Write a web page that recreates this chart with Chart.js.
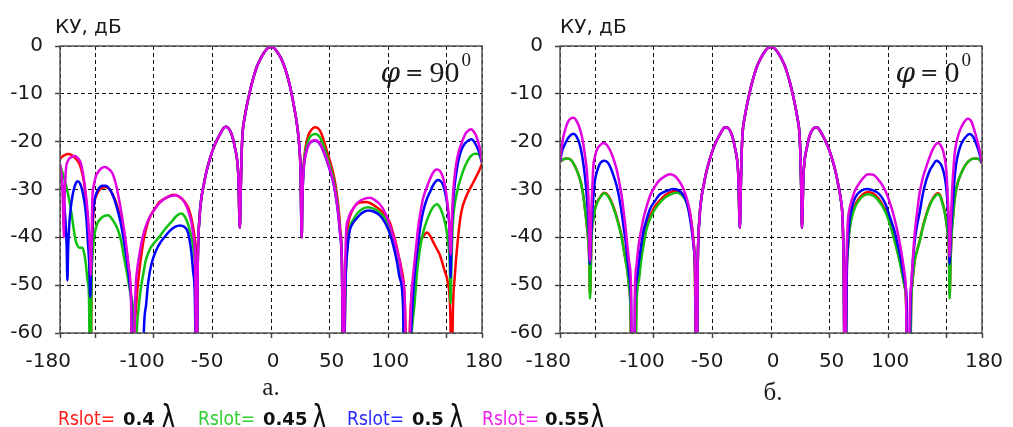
<!DOCTYPE html>
<html>
<head>
<meta charset="utf-8">
<script src="https://cdn.jsdelivr.net/npm/chart.js@4.4.1/dist/chart.umd.min.js"></script>
<style>
  html, body { margin: 0; padding: 0; background: #fff; }
  #wrap { position: relative; width: 1013px; height: 427px; overflow: hidden; }
  canvas { position: absolute; top: 0; }
  .t { position: absolute; white-space: nowrap; line-height: 1; color: #1a1a1a; }
  .ylab { font: 20px "DejaVu Sans", sans-serif; }
  .phi { font: 30px "Liberation Serif", serif; }
  .phi i { font-family: "DejaVu Serif", serif; font-size: 28px; margin-right: 5px; }
  .phi .eq { font: 22px "DejaVu Serif", serif; margin-right: 6px; position: relative; top: -2px; }
  .phi .sup { font-size: 19px; position: relative; top: -16px; margin-left: 2px; }
  .cap { font: 25px "Liberation Serif", serif; transform: translateX(-50%); }
  .rs { font: 19px "DejaVu Sans Condensed", "Liberation Sans", sans-serif; }
  .num { font: bold 18px "DejaVu Sans", sans-serif; color: #111; }
  .lam { font: 33px "DejaVu Sans", sans-serif; color: #111; transform: scaleX(0.75); transform-origin: left; }
</style>
</head>
<body>
<div id="wrap">
  <canvas id="chart90" width="520" height="427" style="left:0"></canvas>
  <canvas id="chart0" width="513" height="427" style="left:500px"></canvas>

  <div class="t ylab" style="left:55px; top:14px">КУ, дБ</div>
  <div class="t ylab" style="left:560px; top:14px">КУ, дБ</div>

  <div class="t phi" style="right:542px; top:55px"><i>φ</i><span class="eq">=</span>90<span class="sup">0</span></div>
  <div class="t phi" style="right:42px; top:55px"><i>φ</i><span class="eq">=</span>0<span class="sup">0</span></div>

  <div class="t cap" style="left:271px; top:373px">a.</div>
  <div class="t cap" style="left:773px; top:378px">б.</div>

  <div class="t rs" style="left:58px; top:407px; color:#ff1a1a">Rslot=</div>
  <div class="t num" style="left:123px; top:408px">0.4</div>
  <div class="t lam" style="left:161px; top:398px">λ</div>

  <div class="t rs" style="left:198px; top:407px; color:#33cc33">Rslot=</div>
  <div class="t num" style="left:263px; top:408px">0.45</div>
  <div class="t lam" style="left:312px; top:398px">λ</div>

  <div class="t rs" style="left:347px; top:407px; color:#2a2aff">Rslot=</div>
  <div class="t num" style="left:412px; top:408px">0.5</div>
  <div class="t lam" style="left:449px; top:398px">λ</div>

  <div class="t rs" style="left:482px; top:407px; color:#ee22ee">Rslot=</div>
  <div class="t num" style="left:545px; top:408px">0.55</div>
  <div class="t lam" style="left:590px; top:398px">λ</div>
</div>

<script>
// axes
const xTicks = [-180, -150, -100, -50, 0, 50, 100, 150, 180];
const xHidden = [-150, 150];
const yTicks = [0, -10, -20, -30, -40, -50, -60];

// series: Rslot = 0.4, 0.45, 0.5, 0.55 lambda
const seriesLabels = ["Rslot= 0.4λ", "Rslot= 0.45λ", "Rslot= 0.5λ", "Rslot= 0.55λ"];

// ---------- phi = 90 ----------
// main lobe + first side lobes, common to all series
const main90 = [[-63.5,-75],[-62.5,-46],[-61,-36],[-59.5,-32],[-57.5,-29.2],[-55,-26.2],[-52,-23.5],[-49,-21.3],[-46,-19.6],[-43,-18.2],[-40.5,-17.2],[-38.5,-16.9],[-36,-17.3],[-34,-18.2],[-32,-19.8],[-30.5,-21.6],[-29,-23.6],[-27.8,-27.5],[-26.6,-38],[-25.8,-30],[-25,-22],[-24,-17.5],[-22.5,-15],[-20.5,-12.3],[-18,-9.5],[-16,-7.5],[-14,-5.8],[-12,-4.3],[-9,-2.7],[-6,-1.4],[-3,-0.5],[0,-0.2],[3,-0.5],[6,-1.5],[9,-2.8],[12,-4.7],[14,-6.3],[16.2,-8.4],[18,-10.5],[19.5,-12.5],[21,-14.5],[22.5,-17],[24,-20.5],[25.2,-26],[26.2,-40]];

const red90Left = [[-180,-23.6],[-178,-23.1],[-176,-22.8],[-173,-22.6],[-170,-22.8],[-167.5,-23.3],[-165,-24],[-163,-24.9],[-160.5,-27.2],[-159,-29.5],[-157.5,-33],[-156,-38],[-155,-44],[-154,-75],[-153,-48],[-152,-38],[-151,-33.4],[-149,-31.3],[-146.7,-30.2],[-144,-29.6],[-141,-29.5],[-138,-29.9],[-135.3,-30.9],[-132,-32.8],[-128.2,-36.2],[-125,-40],[-122.6,-44],[-120.5,-49],[-119,-55],[-117.7,-75],[-116.5,-60],[-115.4,-55.7],[-114,-51],[-112.6,-47.6],[-110.5,-43.5],[-108.3,-40.1],[-105.5,-37.3],[-102.6,-35.4],[-99,-34],[-95.5,-32.7],[-90,-31.8],[-86,-31.3],[-82.7,-31.1],[-78.5,-31.5],[-74.2,-32.4],[-71,-33.6],[-68.5,-35.4],[-66.5,-37.8],[-64.8,-40.8],[-64,-45]];
const red90Right = [[26.7,-32],[27.5,-26],[28.5,-23],[30,-20.5],[32,-18.6],[34.5,-17.5],[37.6,-17],[40,-17.2],[42,-17.8],[44.5,-19.3],[47.5,-21.8],[50,-23.8],[52.8,-26.3],[55,-29],[57,-32.5],[59,-38],[60.5,-45],[61.8,-75],[63.5,-48],[64.5,-41],[65.6,-37.5],[67.5,-35.5],[69.9,-34.1],[72.5,-33.2],[75.6,-32.7],[81.3,-32.6],[88.4,-33.4],[95.5,-34.8],[101.2,-36.8],[104,-39],[106.9,-41.6],[109,-44],[111.1,-46.3],[114,-52.4],[116.8,-75],[118.5,-58],[120,-52],[121.1,-49.7],[123,-46],[125.4,-42.9],[127.5,-40.8],[129.6,-39.9],[133,-39],[135.5,-39.6],[138.2,-40.9],[141,-42.2],[143.9,-43.6],[148.1,-47],[151,-49.7],[153,-56.5],[154,-75],[155.2,-55.2],[156.7,-48.4],[159.5,-40.2],[162.3,-34.8],[166.6,-31.4],[170.9,-29.3],[175.1,-27.3],[178,-25.8],[180,-24.6]];

const green90Left = [[-180,-25],[-178.5,-26],[-176.6,-27.5],[-174.5,-29.5],[-172.3,-32],[-170,-35.3],[-168,-38.8],[-166.5,-40.8],[-165,-41.8],[-163,-42.2],[-161,-42.2],[-159.5,-43.2],[-158,-45.5],[-156.5,-49],[-155.3,-52.3],[-154.2,-75],[-153,-48],[-152,-43],[-151,-40.1],[-148.5,-37.3],[-145.3,-36.1],[-142,-35.5],[-139,-35.4],[-135.5,-36.2],[-131.1,-38.1],[-128,-40.6],[-125.4,-44.2],[-122.5,-48],[-119.7,-52],[-117.5,-56],[-116,-75],[-114.5,-60],[-113,-55],[-111.2,-51],[-108.5,-47],[-106.9,-44.9],[-103,-42.3],[-98.4,-40.8],[-94,-39.5],[-89.8,-38.1],[-85,-36.8],[-81.3,-35.7],[-78,-35.1],[-76.2,-35],[-73.5,-35.7],[-71.4,-36.8],[-69,-38.8],[-67.1,-40.8],[-65.5,-44],[-64.3,-50]];
const green90Right = [[26.7,-32],[27.5,-26.5],[28.5,-23.5],[30,-21.3],[32,-19.6],[34.5,-18.7],[37.6,-18.4],[40,-18.6],[42,-19.2],[44.5,-20.6],[47.5,-22.8],[50,-24.8],[52.8,-27.2],[55,-30],[57,-33.5],[59,-38.8],[60.5,-45.5],[61.8,-75],[63.5,-50],[65,-42.5],[67,-38.2],[70.5,-36.2],[74.2,-34.8],[78.5,-34],[82.7,-33.7],[87.5,-34],[92.7,-34.8],[96.5,-35.8],[99.8,-37.1],[102.7,-39.2],[105.5,-41.6],[107.7,-44.2],[109.7,-47],[112.5,-52.5],[114.5,-75],[117,-75],[120,-60],[122.5,-53.8],[124.5,-47.5],[126.8,-42.9],[129.5,-39.3],[132.5,-36.8],[135.5,-34.9],[138.2,-33.7],[141.6,-33.1],[143.5,-33.5],[145.3,-34.4],[147.5,-36],[149.5,-38.2],[151,-41],[152.4,-45],[153.2,-53.8],[154,-45],[155.2,-36.8],[156.5,-33.5],[158,-31.4],[160,-29.2],[162.3,-27.3],[165,-25.4],[168,-23.9],[170.5,-23],[173.7,-22.5],[176,-22.5],[178,-22.9],[180,-24.2]];

const blue90Left = [[-180,-25.3],[-178.5,-28],[-177,-31.5],[-175.5,-36],[-174.3,-42],[-173.7,-49],[-173,-42],[-172,-37],[-170.9,-34],[-169.5,-31.5],[-168,-29.8],[-166.5,-28.7],[-165.2,-28.3],[-163,-28.7],[-160.9,-30.3],[-159,-32.8],[-157.5,-36],[-156.2,-41],[-155,-46],[-154.2,-52.5],[-153.3,-45],[-152.3,-37],[-151,-33],[-149,-30.8],[-146.7,-29.7],[-144,-29.2],[-141,-29.2],[-138,-29.8],[-135.3,-31],[-132,-33.3],[-128.2,-37],[-125,-41.5],[-122.6,-45.5],[-120.5,-50],[-119,-55],[-117.8,-75],[-109.5,-75],[-108.5,-60],[-106.5,-54],[-105,-50],[-103.2,-47],[-101,-44.7],[-98.5,-43],[-94.7,-41.2],[-91,-40],[-87,-38.8],[-82,-37.8],[-77.6,-37.5],[-74,-37.8],[-71.4,-38.6],[-69.5,-40.5],[-68,-43],[-66.5,-47],[-65,-52]];
const blue90Right = [[26.7,-33],[27.5,-27],[28.5,-24.2],[30,-22.2],[32,-20.7],[34.5,-20],[37.6,-19.8],[40,-20],[42,-20.6],[44.5,-21.9],[47.5,-23.9],[50,-25.8],[52.8,-28.2],[55,-31],[57,-34.5],[59,-39.5],[60.5,-46],[61.8,-75],[63.5,-50],[65,-43],[67,-38.8],[69.5,-37.2],[72.8,-36.1],[77,-35],[82.7,-34.4],[87.5,-34.6],[92.7,-35.4],[96.5,-36.6],[99.8,-38.2],[102.7,-40.3],[105.5,-42.9],[107.7,-45.5],[109.7,-48.4],[112.6,-53.8],[114,-75],[117.5,-75],[119.5,-60],[121.1,-52.4],[123.2,-46],[125.4,-41.6],[127.5,-37.6],[129.6,-34.8],[132.5,-32.3],[135.3,-30.7],[138.5,-29],[142.4,-28],[144.5,-28.2],[146.7,-29],[148.5,-30.6],[150.1,-32.7],[151.4,-35.5],[152.4,-38.8],[153.2,-48.4],[154,-40],[155.2,-33.4],[156.5,-29.5],[158,-26.6],[160,-23.8],[162.3,-21.8],[164.5,-20.7],[166.6,-20.1],[170.9,-19.5],[173,-19.9],[175.1,-20.8],[178,-22.5],[180,-24.4]];

const magenta90Left = [[-180,-24.6],[-179,-26.5],[-178,-29.5],[-177.3,-35],[-176.8,-40],[-176,-31],[-175,-26],[-173,-23.9],[-170,-23.2],[-167.2,-23],[-164.5,-23.5],[-162.4,-24.4],[-160.5,-26.5],[-158.1,-30.7],[-156.5,-34.5],[-155.3,-38.8],[-154.4,-43],[-153.8,-48],[-153,-40],[-152.4,-32],[-151,-29],[-149.5,-27.3],[-148.1,-26.6],[-145,-25.6],[-141.6,-25.3],[-138.5,-25.7],[-135.3,-26.6],[-132.5,-28.7],[-129.7,-32],[-127,-35.8],[-124,-40.8],[-121.5,-46],[-119.5,-52],[-118,-75],[-116.5,-60],[-115.4,-50.3],[-114,-46.5],[-112,-43.3],[-110,-40.5],[-107.5,-38.2],[-104,-36],[-100,-34.4],[-95,-32.8],[-90,-31.8],[-85,-31.3],[-81.3,-31.2],[-77,-31.7],[-73.5,-32.8],[-70.5,-34.5],[-68,-36.8],[-66,-40],[-64.8,-44]];
const magenta90Right = [[26.7,-33],[27.5,-27],[28.5,-24.2],[30,-22.2],[32,-20.7],[34.5,-19.9],[37.6,-19.7],[40,-19.9],[42,-20.5],[44.5,-21.8],[47.5,-23.7],[50,-25.6],[52.8,-28],[55,-30.8],[57,-34.2],[59,-39.2],[60.5,-46],[61.9,-75],[63,-50],[64.2,-38.5],[65.5,-36.5],[67.5,-35],[69.9,-34.1],[73,-33],[77,-32.2],[84.1,-31.7],[91.2,-32.7],[95,-33.8],[98.3,-35.4],[101,-37.2],[104,-39.5],[107,-42.2],[109.7,-45],[112,-48.5],[114,-52.4],[115.4,-75],[117.5,-75],[118.7,-60],[119.7,-52.4],[121,-48.5],[122.5,-45],[124,-41.5],[125.4,-38.2],[127.5,-34.8],[129.6,-32],[132.5,-29.8],[135.3,-28],[138,-26.6],[141,-25.8],[143,-25.9],[145.3,-26.6],[147.3,-28],[149,-30],[150.5,-32.8],[151.8,-36.1],[153.2,-43.6],[154.2,-37],[155.2,-31.4],[156.5,-27.5],[158,-24.6],[160,-22.2],[162.3,-20.5],[164.5,-19.1],[166.6,-18.1],[170.9,-17.4],[173,-17.9],[175.1,-18.8],[178,-21.2],[180,-24.4]];

// ---------- phi = 0 ----------
const main0 = [[-63.5,-75],[-62.5,-46],[-61,-36],[-59.5,-32],[-57.5,-29.2],[-55,-26.2],[-52,-23.5],[-49,-21.3],[-46,-19.6],[-43,-18.2],[-40.5,-17.2],[-38.5,-17],[-36,-17.3],[-34,-18.2],[-32,-19.8],[-30.5,-21.6],[-29,-23.6],[-27.8,-27.5],[-26.6,-38],[-25.8,-30],[-25,-22],[-24,-17.5],[-22.5,-15],[-20.5,-12.3],[-18,-9.5],[-16,-7.5],[-14,-5.8],[-12,-4.3],[-9,-2.7],[-6,-1.4],[-3,-0.5],[0,-0.2],[3,-0.5],[6,-1.4],[9,-2.7],[12,-4.3],[14,-5.8],[16,-7.5],[18,-9.5],[20.5,-12.3],[22.5,-15],[24,-17.5],[25,-22],[25.8,-30],[26.4,-38],[27.6,-27.5],[28.8,-23.6],[30.3,-21.6],[31.8,-19.8],[33.8,-18.2],[36,-17.3],[38.5,-17],[40.5,-17.2],[43,-18.2],[46,-19.6],[49,-21.3],[52,-23.5],[55,-26.2],[57.5,-29.2],[59.5,-32],[61,-36],[62,-46],[63,-75]];

const red0Left = [[-180,-24.2],[-177.2,-23.7],[-174.3,-23.5],[-172,-23.6],[-170,-24],[-168,-24.8],[-165.8,-25.9],[-163.5,-27.4],[-161.5,-29.3],[-160,-31.5],[-158.7,-34.1],[-157.2,-37.3],[-155.8,-40.9],[-155,-45],[-154.4,-52],[-153.7,-46],[-153,-39.5],[-151.5,-36.1],[-150.1,-34],[-148,-32.5],[-145.9,-31.6],[-142.2,-30.7],[-138.8,-31.3],[-136,-32.6],[-133.1,-34.5],[-130.5,-36.7],[-127.9,-39.2],[-124.5,-44],[-122.5,-47],[-121.1,-50.2],[-120,-54],[-118.9,-75],[-116.3,-75],[-114.8,-53],[-113,-48.5],[-111,-44.3],[-108.5,-40.6],[-106.1,-37.6],[-102.5,-35.2],[-98.9,-33.5],[-94.5,-32.2],[-90.4,-31.2],[-85.5,-30.5],[-80.5,-30.3],[-77,-30.6],[-73.4,-31.6],[-71,-33.1],[-69.1,-35],[-67.5,-37.6],[-66.2,-40.5],[-65,-46]];
const red0Right = [[63.5,-75],[64.5,-48],[65.5,-42.7],[67,-38.2],[69,-35.4],[71.5,-33.4],[75,-31.9],[79,-30.9],[82.7,-30.5],[87,-30.8],[91,-31.7],[95,-33.1],[99,-35.1],[102,-37.3],[104,-39.2],[107,-42],[109.7,-44.8],[112,-47.6],[114,-50.2],[115.3,-54],[116.4,-75],[118.5,-75],[119.5,-55],[121,-48.5],[122.5,-45],[124.5,-42.8],[126.8,-40.7],[129.5,-37.8],[132.5,-35.2],[135.5,-33.1],[138.2,-31.8],[142.4,-30.8],[144.5,-31.3],[146,-32.5],[148,-34.4],[149.5,-36.6],[150.8,-39.3],[151.8,-43],[152.4,-52],[153.3,-44],[154.2,-39],[155.2,-36],[156.5,-32.5],[158,-30],[160,-28],[162.3,-26.6],[165,-25.2],[168,-24.2],[171.5,-23.6],[175.1,-23.5],[178,-23.8],[180,-24.5]];

const green0Left = [[-180,-24.2],[-177.2,-23.7],[-174.3,-23.5],[-172,-23.6],[-170,-24],[-168,-24.8],[-165.8,-25.9],[-163.5,-27.4],[-161.5,-29.3],[-160,-31.5],[-158.7,-34.1],[-157.2,-37.3],[-155.8,-40.9],[-155,-45],[-154.4,-52.8],[-153.7,-46],[-153,-39.5],[-151.5,-36.2],[-150.1,-34.1],[-148,-32.6],[-145.9,-31.7],[-142.2,-30.8],[-138.8,-31.5],[-136,-32.8],[-133.1,-34.8],[-130.5,-37],[-127.9,-39.5],[-124.5,-44.3],[-122.5,-47.2],[-121.1,-50.4],[-120,-54],[-118.9,-75],[-116,-75],[-114.6,-53.2],[-112.7,-49],[-110.9,-45],[-108.5,-41.3],[-106.1,-38.2],[-102.5,-35.8],[-98.9,-34.1],[-94.5,-32.7],[-90.4,-31.7],[-85.5,-31],[-80.5,-30.7],[-77,-31],[-73.4,-32],[-71,-33.5],[-69.1,-35.4],[-67.5,-38],[-66.2,-40.9],[-65,-46]];
const green0Right = [[63.5,-75],[64.5,-48],[65.5,-43],[67,-38.5],[69,-35.8],[71.5,-33.8],[75,-32.3],[79,-31.3],[82.7,-31],[87,-31.3],[91,-32.1],[95,-33.5],[99,-35.5],[102,-37.7],[104,-39.5],[107,-42.2],[109.7,-45],[112,-47.8],[114,-50.4],[115.3,-54],[116.2,-75],[118.5,-75],[119.5,-55],[121,-48.5],[122.5,-45],[124.5,-43],[126.8,-40.9],[129.5,-38],[132.5,-35.4],[135.5,-33.3],[138.2,-32],[142.4,-31],[144.5,-31.5],[146,-32.7],[148,-34.6],[149.5,-36.8],[150.8,-39.5],[151.8,-43],[152.4,-52.8],[153.3,-44],[154.2,-39],[155.2,-36],[156.5,-32.5],[158,-30],[160,-28],[162.3,-26.6],[165,-25.2],[168,-24.2],[171.5,-23.6],[175.1,-23.5],[178,-23.8],[180,-24.5]];

const blue0Left = [[-180,-24.2],[-178,-21.8],[-175.7,-20.5],[-173.5,-19.4],[-171.5,-18.8],[-169.5,-18.4],[-167.8,-18.4],[-165.8,-19],[-163.8,-20.1],[-162,-21.8],[-160.1,-24.6],[-158.5,-27.8],[-157.2,-31.3],[-156.2,-35],[-155.3,-39.5],[-154.4,-45.6],[-153.5,-40],[-152.4,-34.8],[-151.3,-30.8],[-150.1,-28],[-148,-25.9],[-145.9,-24.6],[-142.2,-24],[-139.5,-24.3],[-137.3,-25.2],[-134.5,-27],[-131.6,-29.3],[-129.5,-31.7],[-127.4,-34.8],[-125.5,-38.3],[-124,-40.9],[-121.1,-47.7],[-119.5,-53],[-118.3,-75],[-116.8,-75],[-116,-53.2],[-114.5,-48.7],[-112.6,-45],[-110.8,-41.7],[-108.9,-38.8],[-106,-36.2],[-103.2,-34.1],[-99,-32.4],[-94.7,-31],[-89,-30.3],[-83.3,-29.9],[-79.5,-30.1],[-76.2,-30.7],[-73,-32],[-70.5,-34.1],[-68.8,-36.5],[-67.1,-39.5],[-65.8,-42.5],[-64.8,-46]];
const blue0Right = [[63.3,-75],[64.8,-46],[65.8,-40.5],[67,-36.5],[69,-33.8],[71.3,-32],[74,-30.9],[77.5,-30.2],[81.3,-29.9],[86,-30.1],[91.2,-30.7],[95,-31.8],[98.3,-33.4],[101.5,-35.8],[105.5,-38.8],[108.5,-42],[111.1,-45],[113,-47.8],[114.8,-50.4],[115.8,-54],[116.5,-75],[118,-75],[119,-54],[120,-49],[121,-45],[123,-40],[124.8,-37.2],[126.8,-34.8],[129.5,-31],[132.5,-28],[135.5,-26],[138.2,-24.9],[141,-24],[143,-24.2],[145.3,-24.9],[147.3,-26.4],[149,-28.6],[150.2,-31.5],[151,-34.8],[151.8,-39.5],[152.4,-45.6],[153.3,-40],[154.3,-35.5],[155.2,-32.7],[156.5,-28],[158,-24.6],[160,-22.2],[162.3,-20.5],[165.5,-19.2],[169.4,-18.4],[172.5,-19],[175.1,-20.5],[177.5,-22.2],[180,-24.5]];

const magenta0Left = [[-180,-24.2],[-178.5,-21],[-177.2,-19.1],[-175,-17],[-172.9,-15.7],[-170.5,-15.1],[-168.6,-15],[-166.5,-15.4],[-164.4,-16.4],[-162,-18.2],[-160.1,-20.5],[-158.5,-23.3],[-157.2,-25.9],[-155.8,-31.3],[-154.4,-45],[-153.7,-38],[-153,-32.7],[-152.2,-28.3],[-151.6,-25.2],[-150.2,-23.2],[-148.7,-21.8],[-146,-20.8],[-143,-20.3],[-140,-20.7],[-137.3,-21.8],[-134.5,-23.5],[-131.6,-25.9],[-129.5,-28.4],[-127.4,-31.3],[-125.5,-35],[-124,-38.1],[-121.1,-45],[-119.4,-50.4],[-118.3,-75],[-117,-75],[-116,-50.4],[-114.8,-46],[-113.2,-42.2],[-111,-38.8],[-108.9,-36.1],[-106,-33.5],[-103.2,-31.3],[-99.5,-29.6],[-96.1,-28.3],[-91,-27.3],[-86.1,-26.8],[-82.5,-27.1],[-79,-28],[-76,-29.2],[-73.4,-30.7],[-71,-32.6],[-69.1,-34.8],[-67.5,-37.6],[-66.2,-40.9],[-64.8,-46.3]];
const magenta0Right = [[63,-75],[64.3,-46],[65,-40],[65.6,-36.5],[67,-34],[69.9,-31.4],[72.5,-29.8],[75.6,-28.6],[79,-27.5],[82.7,-26.8],[87,-26.9],[92.7,-28.3],[95.5,-29.3],[98.3,-30.7],[101,-32.5],[104,-34.8],[107,-37.8],[109.7,-41],[112,-44.3],[114,-47.7],[115.2,-52],[116.2,-75],[117.5,-75],[118.5,-55],[119.7,-49.7],[121,-44.5],[122.5,-39.5],[124.5,-35],[126.8,-30.7],[129.5,-27.6],[132.5,-25.2],[135.5,-23.1],[138.2,-21.5],[140.5,-20.6],[142.4,-20.3],[144.5,-20.7],[146.7,-21.8],[148.2,-23.5],[149.5,-25.9],[150.3,-29],[151,-32.7],[151.8,-38],[152.4,-44],[153.3,-37],[154.7,-29.3],[155.7,-25.5],[156.7,-22.5],[158.5,-19.8],[160.9,-17.8],[164,-16.2],[168,-15.2],[171,-15.8],[173.7,-17.8],[176,-19.8],[178,-21.8],[180,-24.5]];

const colors = ["#ff0000", "#12c012", "#0000ff", "#e000e0"];

function makeDataset(points, i) {
  return {
    label: seriesLabels[i],
    data: points.map(p => ({ x: p[0], y: p[1] })),
    borderColor: colors[i],
    borderWidth: 2.5,
    pointRadius: 0,
    fill: false,
    cubicInterpolationMode: "monotone",
    order: 4 - i // magenta drawn last, on top
  };
}

// tick labels and frame drawn with the scale positions
const axisDecor = {
  id: "axisDecor",
  afterDraw(chart) {
    const { ctx, chartArea, scales } = chart;
    const x = scales.x, y = scales.y;
    ctx.save();
    ctx.strokeStyle = "#555";
    ctx.lineWidth = 1.5;
    ctx.strokeRect(chartArea.left, chartArea.top, chartArea.right - chartArea.left, chartArea.bottom - chartArea.top);

    ctx.font = '20px "DejaVu Sans"';
    ctx.fillStyle = "#1a1a1a";
    ctx.textBaseline = "alphabetic";
    xTicks.forEach(v => {
      if (xHidden.includes(v)) return;
      const px = x.getPixelForValue(v);
      if (v < 0) {
        ctx.textAlign = "right";
        ctx.fillText(String(v), px + 11, 367);
      } else {
        ctx.textAlign = "center";
        ctx.fillText(String(v), px + 2, 367);
      }
    });
    ctx.textAlign = "right";
    yTicks.forEach(v => {
      const py = y.getPixelForValue(v);
      ctx.fillText(String(v), chartArea.left - 17, py + 5);
    });
    ctx.restore();
  }
};

function makeChart(id, datasets, rightPad) {
  const ctx = document.getElementById(id).getContext("2d");
  return new Chart(ctx, {
    type: "line",
    data: { datasets: datasets },
    options: {
      responsive: false,
      animation: false,
      layout: { padding: { left: 0, right: rightPad, top: 46, bottom: 0 } },
      plugins: { legend: { display: false }, tooltip: { enabled: false } },
      scales: {
        x: {
          type: "linear",
          min: -180,
          max: 180,
          afterBuildTicks: s => { s.ticks = xTicks.map(v => ({ value: v })); },
          afterFit: s => { s.height = 94; },
          ticks: { display: false },
          grid: { color: "#111", lineWidth: 1, drawTicks: true, tickLength: 5, tickColor: "#444", tickWidth: 1.5, tickBorderDash: [] },
          border: { display: false, dash: [4, 3] }
        },
        y: {
          type: "linear",
          min: -60,
          max: 0,
          afterBuildTicks: s => { s.ticks = yTicks.map(v => ({ value: v })); },
          afterFit: s => { s.width = 60; },
          ticks: { display: false },
          grid: { color: "#111", lineWidth: 1, drawTicks: true, tickLength: 5, tickColor: "#444", tickWidth: 1.5, tickBorderDash: [] },
          border: { display: false, dash: [4, 3] }
        }
      }
    },
    plugins: [axisDecor]
  });
}

const ds90 = [
  makeDataset([...red90Left, ...main90, ...red90Right], 0),
  makeDataset([...green90Left, ...main90, ...green90Right], 1),
  makeDataset([...blue90Left, ...main90, ...blue90Right], 2),
  makeDataset([...magenta90Left, ...main90, ...magenta90Right], 3)
];
const ds0 = [
  makeDataset([...red0Left, ...main0, ...red0Right], 0),
  makeDataset([...green0Left, ...main0, ...green0Right], 1),
  makeDataset([...blue0Left, ...main0, ...blue0Right], 2),
  makeDataset([...magenta0Left, ...main0, ...magenta0Right], 3)
];

makeChart("chart90", ds90, 38);
makeChart("chart0", ds0, 31);
</script>
</body>
</html>
